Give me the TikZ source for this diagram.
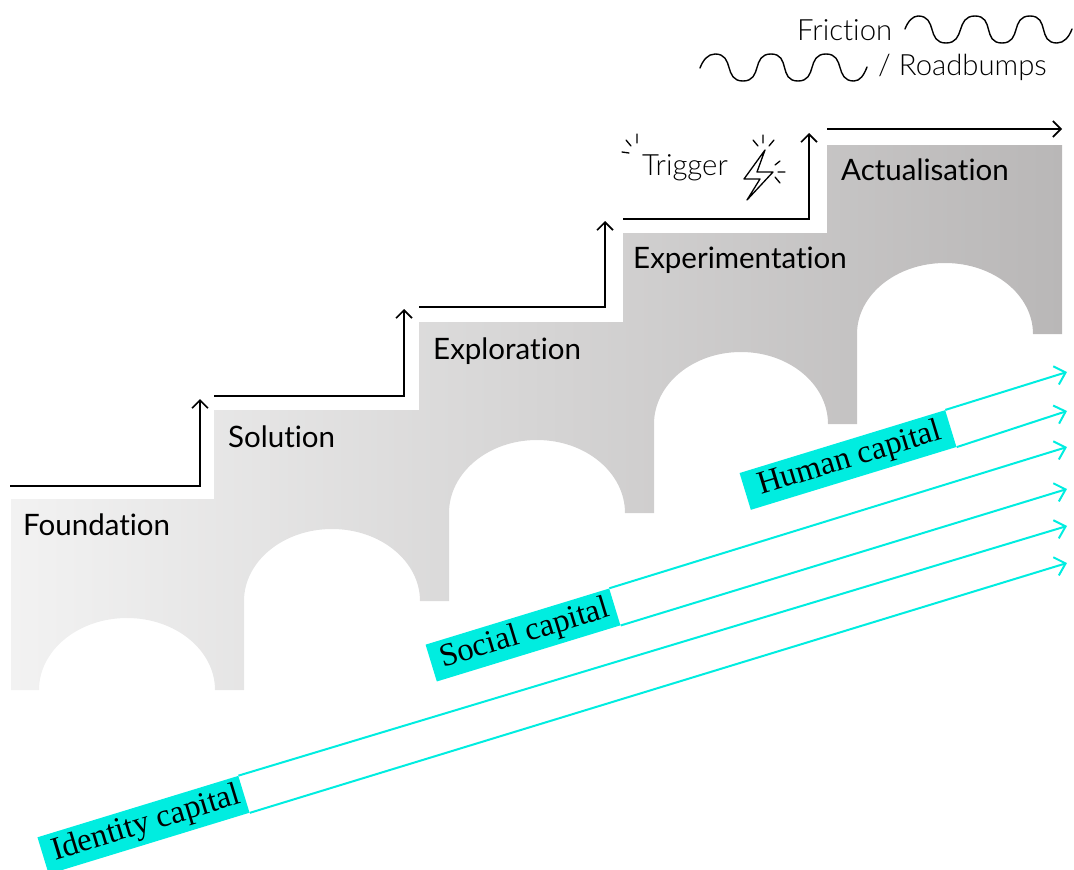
\documentclass[tikz,border=0pt]{standalone}
\usepackage{fontspec}
\setmainfont[Ligatures=NoCommon]{Lato}
\newfontfamily\lightf[Ligatures=NoCommon]{Lato Light}
\newfontfamily\serifl{Liberation Serif}
\usetikzlibrary{arrows.meta}
\definecolor{capcyan}{HTML}{00EDE0}
\definecolor{stairleft}{HTML}{F2F2F2}
\definecolor{stairright}{HTML}{B9B7B7}
\tikzset{
  steplabel/.style={anchor=base west,inner sep=0pt,font=\fontsize{29.5}{30}\selectfont,text=black},
  lightlabel/.style={anchor=base west,inner sep=0pt,font=\lightf\fontsize{29.3}{30}\selectfont,text=black},
  capbox/.style={fill=capcyan,rotate=17,inner sep=0pt,minimum height=38.5pt,text=black,font=\serifl\fontsize{32.5}{34}\selectfont},
  stairline/.style={draw=black,line width=1.7pt,-{Straight Barb[length=8pt,width=16pt,line width=1.6pt]}},
  capline/.style={draw=capcyan,line width=2pt,-{Straight Barb[length=10pt,width=19pt,line width=2pt]}},
  wave/.style={draw=black,line width=1.4pt,line cap=round},
  sketch/.style={draw=black,line width=1.3pt,line cap=round,line join=round}
}
\begin{document}
\begin{tikzpicture}[x=1pt,y=-1pt]
\useasboundingbox (0,0) rectangle (1074,870);
% arcade
\shade[left color=stairleft,right color=stairright]
  (11,499) -- (214,499) -- (214,410) -- (419,410) -- (419,322) -- (623,322) -- (623,233)
  -- (827,233) -- (827,145) -- (1062,145) -- (1062,334) -- (1033,334)
  arc[start angle=0,end angle=180,x radius=88pt,y radius=71pt]
  -- (857,424) -- (828,424)
  arc[start angle=0,end angle=180,x radius=87pt,y radius=72pt]
  -- (654,513) -- (625,513)
  arc[start angle=0,end angle=180,x radius=88pt,y radius=73pt]
  -- (449,601) -- (420,601)
  arc[start angle=0,end angle=180,x radius=88pt,y radius=72pt]
  -- (244,690) -- (215,690)
  arc[start angle=0,end angle=180,x radius=88pt,y radius=72pt]
  -- (11,690) -- cycle;
% step labels
\node[steplabel] (foundation) at (23,535) {Foundation};
\node[steplabel] (solution) at (228,447) {Solution};
\node[steplabel] (exploration) at (433,359) {Exploration};
\node[steplabel] (experimentation) at (633,268) {Experimentation};
\node[steplabel] (actualisation) at (841,180) {Actualisation};
% stair arrows
\coordinate (s1a) at (10,486); \coordinate (s1b) at (200,486); \coordinate (s1c) at (200,399);
\coordinate (s2a) at (214,396); \coordinate (s2b) at (404,396); \coordinate (s2c) at (404,309);
\coordinate (s3a) at (419,307); \coordinate (s3b) at (605,307); \coordinate (s3c) at (605,221);
\coordinate (s4a) at (623,219); \coordinate (s4b) at (809,219); \coordinate (s4c) at (809,133);
\coordinate (s5a) at (827,129); \coordinate (s5c) at (1062,129);
\draw[stairline] (s1a) -- (s1b) -- (s1c);
\draw[stairline] (s2a) -- (s2b) -- (s2c);
\draw[stairline] (s3a) -- (s3b) -- (s3c);
\draw[stairline] (s4a) -- (s4b) -- (s4c);
\draw[stairline] (s5a) -- (s5c);
% friction
\node[lightlabel] (friction) at (797,40) {Friction};
\node[lightlabel] (roadbumps) at (878,75) {/ Roadbumps};
\draw[wave] (905,29) .. controls (908,21) and (913,16) .. (918,16)
  .. controls (938,16) and (926,43) .. (946,43)
  .. controls (966,43) and (955,16) .. (975,16)
  .. controls (995,16) and (982,43) .. (1002,43)
  .. controls (1022,43) and (1010,16) .. (1030,16)
  .. controls (1050,16) and (1037,43) .. (1057,43)
  .. controls (1064,43) and (1069,37) .. (1072,29);
\draw[wave] (700,68) .. controls (703,60) and (708,54) .. (715,54)
  .. controls (735,54) and (723,81) .. (743,81)
  .. controls (763,81) and (751,54) .. (771,54)
  .. controls (791,54) and (778,81) .. (798,81)
  .. controls (818,81) and (806,54) .. (826,54)
  .. controls (846,54) and (834,81) .. (854,81)
  .. controls (860,81) and (864,75) .. (867,67);
% trigger
\node[lightlabel] (trigger) at (642,175) {Trigger};
\draw[sketch] (765,150) -- (744,179) -- (760,179) -- (747,200) -- (773,172) -- (757,172) -- cycle;
\draw[sketch] (763,135)--(763,143) (753,140)--(758,146) (774,140)--(769,146)
  (775,165)--(780,161) (778,172)--(785,172) (775,177)--(780,183);
\draw[sketch] (637,134)--(637,143) (626,140)--(631,146) (622,152)--(629,153);
% capital labels
\node[capbox,minimum width=215pt] (human) at (848,460) {\hspace*{4pt}Human capital};
\node[capbox,minimum width=192pt] (social) at (523,635) {\hspace*{4pt}Social capital};
\node[capbox,minimum width=210pt] (identity) at (143.5,825) {\hspace*{6pt}Identity capital};
\coordinate (h1) at (1067,372); \coordinate (h2) at (1067,411);
\coordinate (c1) at (1067,447); \coordinate (c2) at (1067,489);
\coordinate (i1) at (1067,526); \coordinate (i2) at (1067,563);
\draw[capline] (human.north east) -- (h1);
\draw[capline] (human.south east) -- (h2);
\draw[capline] (social.north east) -- (c1);
\draw[capline] (social.south east) -- (c2);
\draw[capline] (identity.north east) -- (i1);
\draw[capline] (identity.south east) -- (i2);
\end{tikzpicture}
\end{document}
